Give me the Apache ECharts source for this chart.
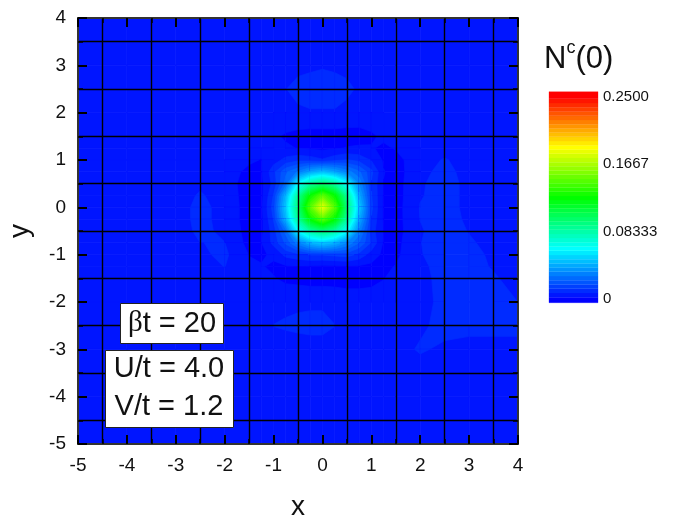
<!DOCTYPE html>
<html><head><meta charset="utf-8">
<style>html,body{margin:0;padding:0;background:#fff}#c{width:673px;height:519px}</style>
<script src="https://cdn.jsdelivr.net/npm/echarts@6/dist/echarts.min.js"></script>
</head><body><div id="c"></div>
<script>
const gridX = [-5,-4.5,-4,-3.5,-3,-2.5,-2,-1.5,-1.25,-1,-.75,-.5,-.25,0,.25,.5,.75,1,1.25,1.5,2,2.5,3,3.5,4];
const gridY = [4,3.5,3,2.5,2,1.5,1.25,1,.75,.5,.25,0,-.25,-.5,-.75,-1,-1.25,-1.5,-2,-2.5,-3,-3.5,-4,-4.5,-5];
// N^c(0) in thousandths, rows from y=4 down to y=-5
const valuesMilli = [
[8,8,8,8,8,8,8,8,8,8,8,8,8,8,8,8,8,8,8,8,8,8,8,8,8],
[8,8,8,8,8,8,8,8,8,8,8,8,8,8,8,8,8,8,8,8,8,8,8,8,8],
[8,8,8,8,8,8,8,8,8,8,8.5,9,9.5,10,9.5,9,8.5,8,8,8,8,8,8,8,8],
[8,8,8,8,8,8,8,8,8.5,9.3,10.3,12,12.5,12.5,12.5,11.5,9.7,8.5,8,8,8,8,8,8,8],
[8,8,8,8,8,8,8,8,8.5,8.8,9,9.5,10,10,10,9,8,8,8,8,8,8,8,8,8],
[8,8,8,8,8,8,8,7,7,6,4.5,3.5,3,3,3,3,3.5,4.5,6,7,8,8,8,8,8],
[8,8,8,8,8,8,8,7,6.5,6.5,6,5,4.5,4,4.5,5.5,5.8,5.5,4.5,5.5,8,8.5,8,8,8],
[8,8,8,8,8,8,8,6,5,8,12,14,13,11,14,16,14,10,4.5,3.5,8.5,10.8,8.5,8,8],
[8,8,8,8,8,8,7.5,4,4.5,14,25,32,42,48,42,34,27,17,5.5,3,9,12,8.5,8,8],
[8,8,8,8,8,9.5,7.5,3,4,12,28,64,88,98,88,66,36,15,5,3,9.8,12.5,9,8,8],
[8,8,8,8,8,11,8,3,3.5,16,46,90,128,150,128,90,44,16,4.5,3,10,12.5,9,8,8],
[8,8,8,8,8,12,8.5,3,4,18,52,98,150,185,150,98,52,17,4,3,10.7,12.5,9,8,8],
[8,8,8,8,8,12,8.5,3,3.5,16,46,90,128,150,128,90,44,15,4.5,3,10.5,12.5,9.5,8,8],
[8,8,8,8,8,11.5,9.5,3,4,13,28,64,88,98,88,66,34,13,5,3,10,12.5,10.2,8.5,8],
[8,8,8,8,8,10.4,10.5,3.5,5,12,22,34,46,52,46,36,26,15,4.5,3.5,10.3,12.5,11,9,8],
[8,8,8,8,8,9.5,11.5,5,4.5,6,12,14,16,16,17,18,14,8,4,4,10.2,12,12,9.5,8],
[8,8,8,8,8,9,10.5,6.5,5.5,4.5,4.5,5,4.5,4,4,4.5,4.5,4,4,5.5,9.5,12,12,10,8.2],
[8,8,8,8,8,8,9,7,6.5,5.5,4,3.5,3,3,3,3,3,3.5,5,7,9,12,12,11,8.5],
[8,8,8,8,8,8,8,8,8.5,9,9.3,9.5,9.5,9.5,9,8,8,8,8,8,8.5,12,12,12,10.4],
[8,8,8,8,8,8,8,8,8.5,10.5,11,11.5,12,12,10.5,8.5,8,8,8,8,9.5,12,12,12,12],
[8,8,8,8,8,8,8,8,8,8,8,8,8,8,8,8,8,8,8,8.5,11,9.5,8.5,8.5,8.5],
[8,8,8,8,8,8,8,8,8,8,8,8,8,8,8,8,8,8,8,8,8,8,8,8,8],
[8,8,8,8,8,8,8,8,8,8,8,8,8,8,8,8,8,8,8,8,8,8,8,8,8],
[8,8,8,8,8,8,8,8,8,8,8,8,8,8,8,8,8,8,8,8,8,8,8,8,8],
[8,8,8,8,8,8,8,8,8,8,8,8,8,8,8,8,8,8,8,8,8,8,8,8,8]
];
const tickLabels = [0, 0.08333, 0.1667, 0.25];
const tickText = ['0', '0.08333', '0.1667', '0.2500'];
const colorStops = [[0,[0,0,255]],[.0625,[0,255,255]],[.125,[0,255,0]],[.1875,[255,255,0]],[.25,[255,0,0]]];
const bandCount = 48, vMax = 0.25, step = vMax / bandCount;
const font = 'Arial, "Liberation Sans", sans-serif', ink = '#111';

function bandColor(k){
  const v = Math.min(vMax, k * step);
  for (let i = 1; i < colorStops.length; i++) {
    if (v <= colorStops[i][0] + 1e-9) {
      const a = colorStops[i-1], b = colorStops[i], t = (v - a[0]) / (b[0] - a[0]);
      return 'rgb(' + a[1].map((c, n) => Math.round(c + (b[1][n] - c) * t)).join(',') + ')';
    }
  }
}
function clipAbove(poly, level){
  const out = [];
  for (let i = 0; i < poly.length; i++) {
    const p = poly[i], q = poly[(i + 1) % poly.length];
    const pIn = p[2] >= level, qIn = q[2] >= level;
    if (pIn) out.push(p);
    if (pIn !== qIn) {
      const t = (level - p[2]) / (q[2] - p[2]);
      out.push([p[0] + (q[0]-p[0]) * t, p[1] + (q[1]-p[1]) * t, level]);
    }
  }
  return out;
}
function shape(pts, k){
  const c = bandColor(k);
  return {type:'polygon', shape:{points:pts.map(p => [p[0], p[1]])}, style:{fill:c, stroke:c, lineWidth:0.7}};
}
const cells = [];
for (let r = 0; r < gridY.length - 1; r++) for (let c = 0; c < gridX.length - 1; c++) {
  cells.push([gridX[c], gridX[c+1], gridY[r], gridY[r+1],
    valuesMilli[r][c]/1000, valuesMilli[r][c+1]/1000, valuesMilli[r+1][c+1]/1000, valuesMilli[r+1][c]/1000]);
}
function renderCell(params, api){
  const x0 = api.value(0), x1 = api.value(1), y0 = api.value(2), y1 = api.value(3);
  const mk = (x, y, v) => { const p = api.coord([x, y]); return [p[0], p[1], v]; };
  const quad = [mk(x0,y0,api.value(4)), mk(x1,y0,api.value(5)), mk(x1,y1,api.value(6)), mk(x0,y1,api.value(7))];
  const vs = quad.map(p => p[2]);
  const lo = Math.floor(Math.min(...vs) / step), hi = Math.floor(Math.max(...vs) / step);
  const children = [shape(quad, lo)];
  for (let k = lo + 1; k <= hi; k++) {
    const pts = clipAbove(quad, k * step);
    if (pts.length > 2) children.push(shape(pts, k));
  }
  return {type:'group', children};
}
const bands = [];
for (let k = 0; k <= bandCount; k++) bands.push([k, k === 0 ? -0.0042 : (k - 0.5) * step, k === bandCount ? 0.2562 : (k + 0.5) * step]);
function renderBand(params, api){
  const a = api.coord([0, api.value(1)]), b = api.coord([1, api.value(2)]);
  const c = bandColor(api.value(0));
  return {type:'rect', shape:{x:a[0], y:b[1], width:b[0]-a[0], height:a[1]-b[1]}, style:{fill:c, stroke:c, lineWidth:0.3}};
}
const lineDark = {show:true, lineStyle:{color:'#333', width:2}};
const xBase = {type:'value', min:-5, max:4, interval:1, z:10, minorTick:{show:true, splitNumber:2, length:5, lineStyle:{color:'#000', width:1.5}},
  axisTick:{show:true, inside:true, length:9, lineStyle:{color:'#000', width:2}}, axisLine:Object.assign({onZero:false}, lineDark)};
function mainAxis(pos, labelled, nameText, nameGap, rot){
  const a = Object.assign({}, xBase, {position:pos,
    axisLabel:{show:labelled, fontFamily:font, fontSize:19, color:ink, margin:labelled ? 12 : 0, showMinLabel:true, showMaxLabel:true, hideOverlap:false},
    splitLine:{show:false},
    minorSplitLine:{show:labelled, lineStyle:{color:'#000', width:1.4}}});
  if (nameText) Object.assign(a, {name:nameText, nameLocation:'middle', nameGap, nameRotate:rot, nameTextStyle:{fontFamily:font, fontSize:28, color:ink}});
  return a;
}
const chart = echarts.init(document.getElementById('c'), null, {renderer:'canvas'});
chart.setOption({
  animation:false,
  backgroundColor:'#fff',
  grid:[{left:78, top:18, width:440, height:426, outerBoundsMode:'none'},{left:549, top:91.7, width:49, height:211, outerBoundsMode:'none'}],
  xAxis:[mainAxis('bottom', true, 'x', 49, 0), mainAxis('top', false),
    {gridIndex:1, type:'value', min:0, max:1, show:false}],
  yAxis:[mainAxis('left', true, 'y', 44, 90), mainAxis('right', false),
    {gridIndex:1, type:'value', position:'right', min:-0.0042, max:0.2562,
     axisLine:{show:false}, axisTick:{show:false}, splitLine:{show:false},
     axisLabel:{show:true, customValues:tickLabels, margin:5, fontFamily:font, fontSize:15, color:ink,
       formatter:v => tickText[tickLabels.indexOf(v)]}}],
  series:[
    {type:'custom', xAxisIndex:0, yAxisIndex:0, data:cells, renderItem:renderCell, silent:true, clip:true, z:2,
     encode:{x:[0,1], y:[2,3]}},
    {type:'custom', xAxisIndex:2, yAxisIndex:2, data:bands, renderItem:renderBand, silent:true, z:2,
     encode:{y:[1,2]}}
  ],
  graphic:[
    {type:'text', z:100, left:544, top:39, style:{rich:{n:{fontFamily:font, fontSize:31, fill:ink, lineHeight:40, verticalAlign:'bottom'}, s:{fontFamily:font, fontSize:18, fill:ink, padding:[0,0,14,0]}}, text:'{n|N}{s|c}{n|(0)}'}},
    {type:'group', z:100, children:[
      {type:'rect', z:100, shape:{x:120.5, y:303.5, width:103, height:40}, style:{fill:'#fff', stroke:'#222', lineWidth:1}},
      {type:'text', z:101, x:172, y:323.5, style:{align:'center', verticalAlign:'middle', rich:{b:{fontFamily:'"Liberation Serif", serif', fontSize:29, fill:ink}, t:{fontFamily:font, fontSize:29, fill:ink}}, text:'{b|β}{t|t = 20}'}},
      {type:'rect', z:100, shape:{x:105.5, y:350.5, width:128, height:77}, style:{fill:'#fff', stroke:'#222', lineWidth:1}},
      {type:'text', z:101, x:169, y:369, style:{align:'center', verticalAlign:'middle', font:'29px '+font, fill:ink, text:'U/t = 4.0'}},
      {type:'text', z:101, x:169, y:407, style:{align:'center', verticalAlign:'middle', font:'29px '+font, fill:ink, text:'V/t = 1.2'}}
    ]}
  ]
});
</script></body></html>
